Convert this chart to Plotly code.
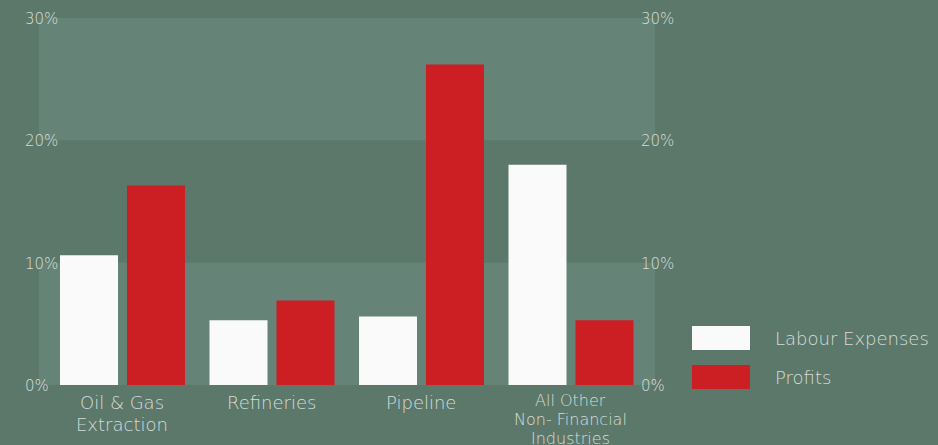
import plotly.graph_objects as go

categories = ["Oil & Gas<br>Extraction", "Refineries", "Pipeline", "All Other<br>Non- Financial<br>Industries"]
series_names = ["Labour Expenses", "Profits"]
labour = [10.6, 5.3, 5.6, 18.0]
profits = [16.3, 6.9, 26.2, 5.3]
y_ticks = [0, 10, 20, 30]
y_tick_labels = ["0%", "10%", "20%", "30%"]

BG = "#5c786b"
BAND = "#658477"
WHITE = "#fafafa"
RED = "#cc1f24"
TXT = "rgba(232,236,233,0.88)"
FONT = "DejaVu Sans"

W, H = 938, 445
L, R, T, B = 39, 283, 18, 60
pw = W - L - R
ph = H - T - B

x_idx = list(range(len(categories)))

fig = go.Figure()
fig.add_trace(go.Bar(x=x_idx, y=labour, name=series_names[0], marker_color=WHITE, marker_line_width=0))
fig.add_trace(go.Bar(x=x_idx, y=profits, name=series_names[1], marker_color=RED, marker_line_width=0))

# background bands
for y0, y1 in [(0, 10), (20, 30)]:
    fig.add_shape(type="rect", xref="paper", yref="y", x0=0, x1=1, y0=y0, y1=y1,
                  fillcolor=BAND, line_width=0, layer="below")

def fnt(size):
    return dict(family=FONT, size=size, color=TXT, weight=200)

ann = []
# y tick labels both sides
for v, t in zip(y_ticks, y_tick_labels):
    for xp in (23, 639):
        ann.append(dict(x=(xp - L) / pw, xref="paper", y=v, yref="y", text=t, showarrow=False,
                        xanchor="left", yanchor="middle", yshift=-1, font=fnt(15)))
# category labels (one annotation per line)
for i, c in enumerate(categories):
    lines = c.split("<br>")
    small = len(lines) >= 3
    size = 16 if small else 18
    first = 15.5 if small else 17
    step = 19 if small else 22
    for j, ln in enumerate(lines):
        ann.append(dict(x=i, xref="x", y=0, yref="y", text=ln, showarrow=False,
                        xanchor="center", yanchor="middle", yshift=-(first + step * j),
                        font=fnt(size)))
# custom legend
for k, (name, col) in enumerate(zip(series_names, [WHITE, RED])):
    yc = 338 + 39 * k
    fig.add_shape(type="rect", xref="paper", yref="paper",
                  x0=(692 - L) / pw, x1=(750 - L) / pw,
                  y0=(H - B - (yc + 12)) / ph, y1=(H - B - (yc - 12)) / ph,
                  fillcolor=col, line_width=0)
    ann.append(dict(x=(773 - L) / pw, xref="paper", y=(H - B - yc) / ph, yref="paper",
                    text=name, showarrow=False, xanchor="left", yanchor="middle",
                    font=fnt(18)))

fig.update_layout(
    width=W, height=H,
    margin=dict(l=L, r=R, t=T, b=B, pad=0),
    paper_bgcolor=BG, plot_bgcolor=BG,
    barmode="group", bargap=0.104, bargroupgap=0.134,
    showlegend=False,
    annotations=ann,
    xaxis=dict(range=[-0.5585, 3.562], showticklabels=False, showgrid=False, zeroline=False,
               showline=False, ticks=""),
    yaxis=dict(range=[0, 30], tickvals=y_ticks, showticklabels=False, showgrid=False,
               zeroline=False, showline=False, ticks=""),
)

fig.write_html("out.html", config={"displayModeBar": False},
               post_script="document.body.style.margin='0';document.body.style.background='" + BG + "';")
